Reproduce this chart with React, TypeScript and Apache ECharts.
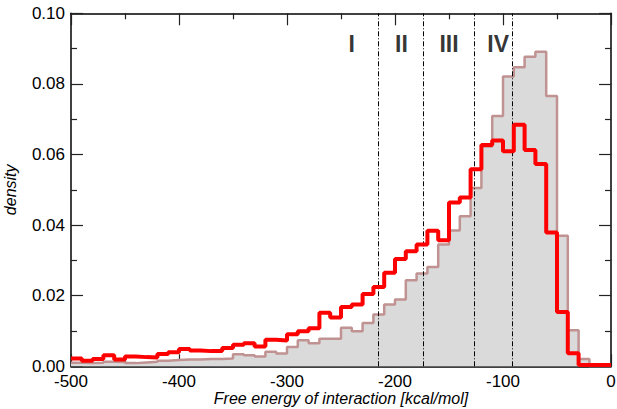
import React, { useEffect, useRef } from "react";
import * as echarts from "echarts";

// Left edges of the 10 kcal/mol histogram bins
const binLefts = [
  -500, -490, -480, -470, -460, -450, -440, -430, -420, -410,
  -400, -390, -380, -370, -360, -350, -340, -330, -320, -310,
  -300, -290, -280, -270, -260, -250, -240, -230, -220, -210,
  -200, -190, -180, -170, -160, -150, -140, -130, -120, -110,
  -100, -90, -80, -70, -60, -50, -40, -30, -20, -10,
];
const binEnd = 0;

// Red histogram
const redDensity = [
  0.0022, 0.0016, 0.0021, 0.0031, 0.0019, 0.0028, 0.0026, 0.0025, 0.0035, 0.004,
  0.0049, 0.0045, 0.0043, 0.0043, 0.0052, 0.0061, 0.0065, 0.0056, 0.0075, 0.0073,
  0.0091, 0.0099, 0.0108, 0.0152, 0.0138, 0.0168, 0.0175, 0.0205, 0.0225, 0.0265,
  0.0304, 0.0326, 0.0345, 0.0384, 0.0357, 0.0464, 0.0478, 0.0558, 0.0627, 0.064,
  0.0609, 0.0684, 0.0613, 0.0573, 0.0379, 0.0154, 0.0037, 0.0004, 0.0004, 0.0004,
];

// Grey filled histogram
const greyDensity = [
  0.001, 0.0009, 0.001, 0.0013, 0.0012, 0.0009, 0.0011, 0.0013, 0.0016, 0.0018,
  0.0019, 0.0019, 0.0021, 0.0021, 0.0022, 0.0034, 0.0031, 0.0028, 0.0041, 0.0036,
  0.0055, 0.0074, 0.0065, 0.0078, 0.0078, 0.0109, 0.0099, 0.0123, 0.0147, 0.0175,
  0.0189, 0.0244, 0.0263, 0.0281, 0.0345, 0.0385, 0.0425, 0.0505, 0.0623, 0.0709,
  0.0821, 0.0847, 0.0877, 0.0891, 0.0766, 0.037, 0.0102, 0.0021, 0, 0,
];

// Region boundaries (dash-dot lines) and region labels
const regionBoundaries = [-215.7, -174, -126.7, -91.1];
const regionLabels = ["I", "II", "III", "IV"];
const regionLabelX = [-240, -194, -150, -104.5];
const regionLabelY = 0.0912;

const xTickMin = -500;
const xTickMax = 0;
const xTickStep = 100;
const yTickMin = 0;
const yTickMax = 0.1;
const yTickStep = 0.02;

const FONT = "'Liberation Sans', Arial, Helvetica, sans-serif";

function stepData(vals: number[]) {
  const d: number[][] = binLefts.map((x, i) => [x, vals[i]]);
  d.push([binEnd, vals[vals.length - 1]]);
  return d;
}

export default function App() {
  const ref = useRef<HTMLDivElement>(null);
  useEffect(() => {
    if (!ref.current) return;
    const chart = echarts.init(ref.current, undefined, { renderer: "svg" });
    const axisLine = { show: true, onZero: false, lineStyle: { color: "#000", width: 1.5 } };
    const tick = { show: true, inside: true, length: 12, lineStyle: { color: "#222", width: 1.2 } };
    const minor = { show: true, splitNumber: 2, length: 6, lineStyle: { color: "#222", width: 1.2 } };
    chart.setOption({
      animation: false,
      backgroundColor: "#fff",
      grid: { left: 71, right: 6, top: 13.3, bottom: 42.7, containLabel: false, outerBoundsMode: "none" },
      xAxis: [
        {
          type: "value",
          min: xTickMin,
          max: xTickMax,
          interval: xTickStep,
          position: "bottom",
          axisLine,
          axisTick: tick,
          minorTick: minor,
          splitLine: { show: false },
          axisLabel: { color: "#000", fontSize: 17, fontFamily: FONT, margin: 7 },
          name: "Free energy of interaction [kcal/mol]",
          nameLocation: "middle",
          nameGap: 24,
          nameMoveOverlap: false,
          nameTextStyle: { color: "#000", fontSize: 16, fontStyle: "italic", fontFamily: FONT },
        },
        {
          type: "value",
          min: xTickMin,
          max: xTickMax,
          interval: xTickStep,
          position: "top",
          axisLine,
          axisTick: tick,
          minorTick: minor,
          splitLine: { show: false },
          axisLabel: { show: false },
        },
      ],
      yAxis: [
        {
          type: "value",
          min: yTickMin,
          max: yTickMax,
          interval: yTickStep,
          position: "left",
          axisLine,
          axisTick: tick,
          minorTick: minor,
          splitLine: { show: false },
          axisLabel: {
            color: "#000",
            fontSize: 17,
            fontFamily: FONT,
            margin: 6,
            formatter: (v: number) => v.toFixed(2),
          },
          name: "density",
          nameLocation: "middle",
          nameGap: 53,
          nameMoveOverlap: false,
          nameTextStyle: { color: "#000", fontSize: 16, fontStyle: "italic", fontFamily: FONT },
        },
        {
          type: "value",
          min: yTickMin,
          max: yTickMax,
          interval: yTickStep,
          position: "right",
          axisLine,
          axisTick: tick,
          minorTick: minor,
          splitLine: { show: false },
          axisLabel: { show: false },
        },
      ],
      series: [
        {
          type: "line",
          step: "end",
          data: stepData(greyDensity),
          showSymbol: false,
          symbol: "none",
          lineStyle: { color: "#c09292", width: 2.5 },
          areaStyle: { color: "#dadada", opacity: 1, origin: "start" },
          z: 2,
          markLine: {
            silent: true,
            symbol: ["none", "none"],
            label: { show: false },
            lineStyle: { color: "#000", width: 1, type: [5, 2, 1, 2] },
            data: regionBoundaries.map((v) => ({ xAxis: v })),
            z: 3,
          },
        },
        {
          type: "line",
          step: "end",
          data: stepData(redDensity),
          showSymbol: false,
          symbol: "none",
          lineStyle: { color: "#ff0000", width: 4 },
          z: 4,
        },
        {
          type: "scatter",
          data: regionLabels.map((t, i) => ({ value: [regionLabelX[i], regionLabelY], name: t })),
          symbolSize: 1,
          itemStyle: { color: "rgba(0,0,0,0)" },
          label: {
            show: true,
            position: "inside",
            formatter: (p: any) => p.name,
            color: "#000",
            fontSize: 23,
            fontWeight: "bold",
            fontFamily: FONT,
          },
          z: 5,
        },
      ],
    });
    return () => chart.dispose();
  }, []);
  return (
    <div
      ref={ref}
      style={{ position: "fixed", left: 0, top: 0, width: 617, height: 409, background: "#fff" }}
    />
  );
}
